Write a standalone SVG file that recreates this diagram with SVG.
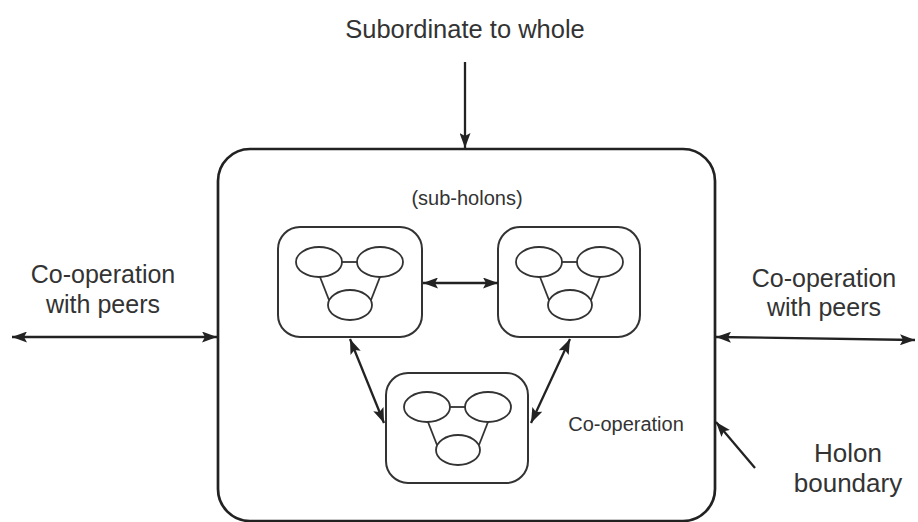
<svg xmlns="http://www.w3.org/2000/svg" width="918" height="522" viewBox="0 0 918 522">
<defs>
<style>
.box{fill:none;stroke:#222;stroke-width:2.7}
.sub{fill:none;stroke:#333;stroke-width:2}
.el{fill:none;stroke:#333;stroke-width:1.8}
.ln{fill:none;stroke:#222;stroke-width:2.3}
.t{font-family:"Liberation Sans",Arial,sans-serif;fill:#333;text-anchor:middle}
</style>
<marker id="ah" viewBox="0 0 15 11" refX="15" refY="5.5" markerWidth="15" markerHeight="11" markerUnits="userSpaceOnUse" orient="auto-start-reverse">
<path d="M0,0 L15,5.5 L0,11 L3,5.5 Z" fill="#222"/>
</marker>
<g id="glyph">
<ellipse class="el" cx="0" cy="0" rx="23" ry="15"/>
<ellipse class="el" cx="61" cy="0" rx="23" ry="15"/>
<line class="el" x1="23" y1="0" x2="38" y2="0"/>
<ellipse class="el" cx="31" cy="43" rx="22" ry="15"/>
<line class="el" x1="1" y1="15" x2="10" y2="38"/>
<line class="el" x1="61" y1="15" x2="52" y2="38"/>
</g>
</defs>
<rect width="918" height="522" fill="#fff"/>
<g id="holon">
<rect class="box" x="218" y="149" width="497" height="372" rx="32"/>
</g>
<g id="sub1">
<rect class="sub" x="278" y="227" width="144" height="110" rx="22"/>
<use href="#glyph" x="319" y="262"/>
</g>
<g id="sub2">
<rect class="sub" x="498" y="227" width="142" height="110" rx="22"/>
<use href="#glyph" x="539" y="262"/>
</g>
<g id="sub3">
<rect class="sub" x="386" y="373" width="142" height="110" rx="22"/>
<use href="#glyph" x="427" y="407"/>
</g>
<g id="connectors">
<line class="ln" x1="465" y1="62" x2="465" y2="148" marker-end="url(#ah)"/>
<line class="ln" x1="12" y1="337" x2="217" y2="337" marker-start="url(#ah)" marker-end="url(#ah)"/>
<line class="ln" x1="716" y1="337" x2="915" y2="340" marker-start="url(#ah)" marker-end="url(#ah)"/>
<line class="ln" x1="423" y1="283" x2="498" y2="283" marker-start="url(#ah)" marker-end="url(#ah)"/>
<line class="ln" x1="350" y1="339" x2="384" y2="423" marker-start="url(#ah)" marker-end="url(#ah)"/>
<line class="ln" x1="570" y1="339" x2="531" y2="423" marker-start="url(#ah)" marker-end="url(#ah)"/>
<line class="ln" x1="755" y1="468" x2="716" y2="422" stroke-width="1.5" marker-end="url(#ah)"/>
</g>
<g id="labels">
<text class="t" x="465" y="38" font-size="25.5">Subordinate to whole</text>
<text class="t" x="467" y="205" font-size="20">(sub-holons)</text>
<text class="t" x="103" y="283" font-size="25">Co-operation</text>
<text class="t" x="103" y="313" font-size="25">with peers</text>
<text class="t" x="824" y="287" font-size="25">Co-operation</text>
<text class="t" x="824" y="316" font-size="25">with peers</text>
<text class="t" x="626" y="431" font-size="20">Co-operation</text>
<text class="t" x="848" y="462" font-size="26">Holon</text>
<text class="t" x="848" y="492" font-size="26">boundary</text>
</g>
</svg>
